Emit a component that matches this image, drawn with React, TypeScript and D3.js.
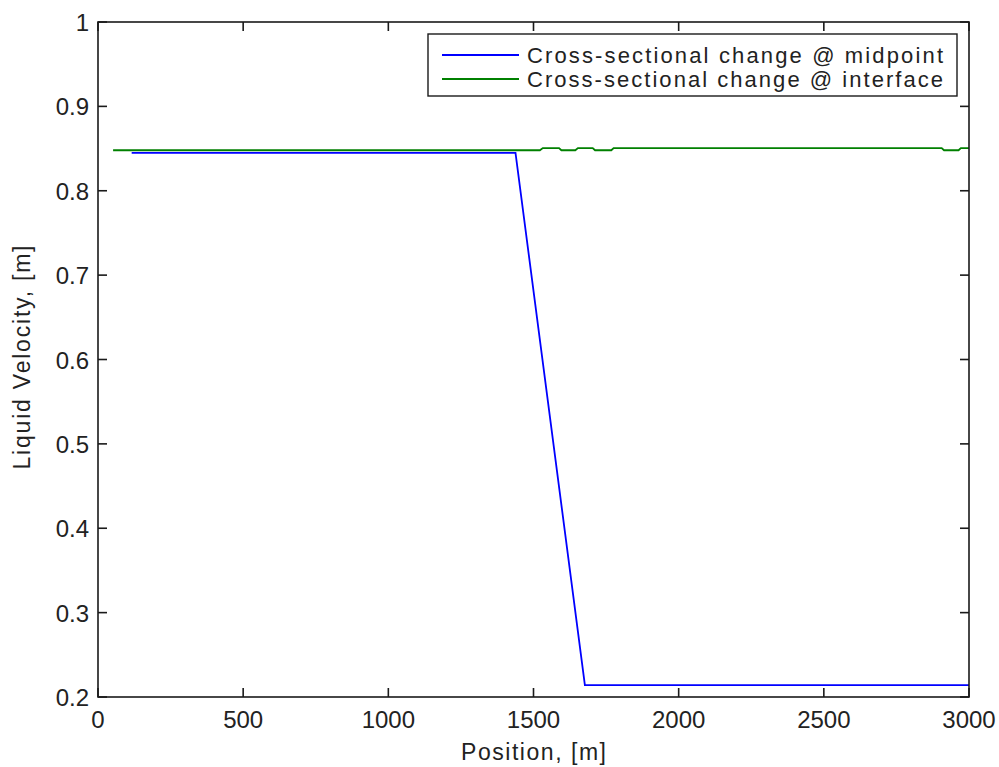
import React from "react";
import * as d3 from "d3";

const xTicks = [0, 500, 1000, 1500, 2000, 2500, 3000];
const yTicks = [0.2, 0.3, 0.4, 0.5, 0.6, 0.7, 0.8, 0.9, 1];
const yTickLabels = ["0.2", "0.3", "0.4", "0.5", "0.6", "0.7", "0.8", "0.9", "1"];

const midpointX = [116, 1438, 1677, 3000];
const midpointY = [0.845, 0.845, 0.214, 0.214];

const interfaceX = [52, 1522, 1532, 1588, 1596, 1644, 1653, 1704, 1712, 1768, 1776, 2906, 2914, 2964, 2972, 3000];
const interfaceY = [0.848, 0.848, 0.8505, 0.8505, 0.848, 0.848, 0.8505, 0.8505, 0.848, 0.848, 0.8505, 0.8505, 0.848, 0.848, 0.8505, 0.8505];

const legendLabels = ["Cross-sectional change @ midpoint", "Cross-sectional change @ interface"];
const legendLengths = [416, 416];
const colors = ["#0000ff", "#008000"];

const W = 999;
const H = 767;
const L = 98, R = 969, T = 22, B = 697;
const FONT = "'Liberation Sans', Arial, sans-serif";

export default function App() {
  const x = d3.scaleLinear().domain([0, 3000]).range([L, R]);
  const y = d3.scaleLinear().domain([0.2, 1]).range([B, T]);
  const line = d3.line<[number, number]>().x((d) => x(d[0])).y((d) => y(d[1]));
  const s1 = midpointX.map((v, i) => [v, midpointY[i]] as [number, number]);
  const s2 = interfaceX.map((v, i) => [v, interfaceY[i]] as [number, number]);
  const tl = 9;
  const axisColor = "#1a1a1a";
  return (
    <svg width={W} height={H} style={{ position: "absolute", left: 0, top: 0, background: "#fff" }}>
      <rect x={0} y={0} width={W} height={H} fill="#fff" />
      <path d={line(s2) || ""} fill="none" stroke={colors[1]} strokeWidth={1.8} />
      <path d={line(s1) || ""} fill="none" stroke={colors[0]} strokeWidth={1.8} />
      <rect x={L} y={T} width={R - L} height={B - T} fill="none" stroke={axisColor} strokeWidth={1.6} />
      {xTicks.map((t) => (
        <g key={"x" + t}>
          <line x1={x(t)} x2={x(t)} y1={B} y2={B - tl} stroke={axisColor} strokeWidth={1.6} />
          <line x1={x(t)} x2={x(t)} y1={T} y2={T + tl} stroke={axisColor} strokeWidth={1.6} />
          <text x={x(t)} y={728} textAnchor="middle" fontFamily={FONT} fontSize={24} fill="#222">{t}</text>
        </g>
      ))}
      {yTicks.map((t, i) => (
        <g key={"y" + t}>
          <line x1={L} x2={L + tl} y1={y(t)} y2={y(t)} stroke={axisColor} strokeWidth={1.6} />
          <line x1={R} x2={R - tl} y1={y(t)} y2={y(t)} stroke={axisColor} strokeWidth={1.6} />
          <text x={89} y={y(t) + 9} textAnchor="end" fontFamily={FONT} fontSize={24} fill="#222">{yTickLabels[i]}</text>
        </g>
      ))}
      <text x={(L + R) / 2} y={760} textAnchor="middle" fontFamily={FONT} fontSize={23} textLength={145} lengthAdjust="spacing" fill="#222">Position, [m]</text>
      <text transform={`translate(30, ${(T + B) / 2 - 2}) rotate(-90)`} textAnchor="middle" fontFamily={FONT} fontSize={23} textLength={224} lengthAdjust="spacing" fill="#222">Liquid Velocity, [m]</text>
      <rect x={428} y={34} width={529} height={62} fill="#fff" stroke={axisColor} strokeWidth={1.4} />
      {legendLabels.map((lab, i) => (
        <g key={lab}>
          <line x1={442} x2={519} y1={55 + i * 24} y2={55 + i * 24} stroke={colors[i]} strokeWidth={1.8} />
          <text x={527} y={55 + i * 24 + 8} fontFamily={FONT} fontSize={22} textLength={legendLengths[i]} lengthAdjust="spacing" fill="#222">{lab}</text>
        </g>
      ))}
    </svg>
  );
}
